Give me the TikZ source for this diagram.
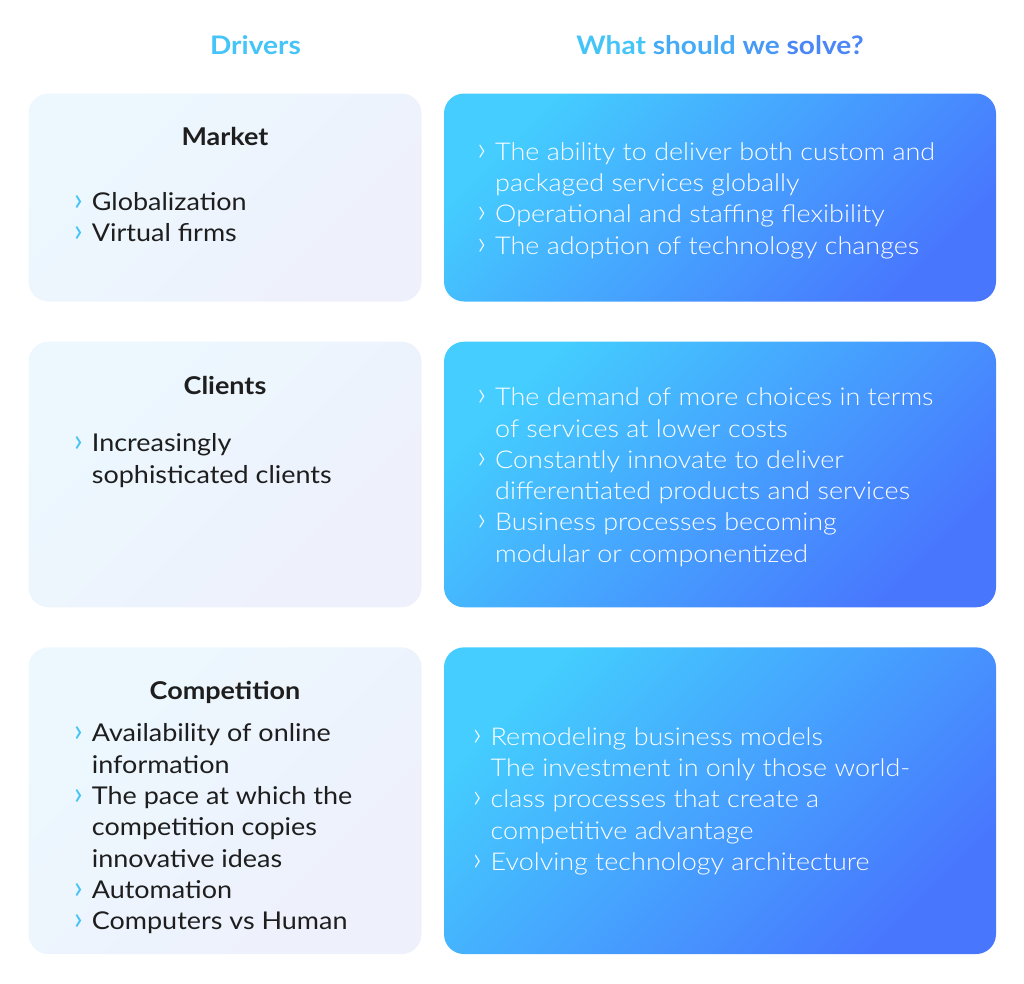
\documentclass[tikz,border=0pt]{standalone}
\usepackage{fontspec}
\setmainfont{Lato}[FakeStretch=1.1]
\newfontfamily\lightfont{Lato Light}[FakeStretch=1.1]
\newfontfamily\chevfont{Lato}
\newfontfamily\chevlightfont{Lato Light}
\usetikzlibrary{positioning}
\definecolor{headcyan}{HTML}{44C4F7}
\definecolor{headblue}{HTML}{4A86F6}
\definecolor{ink}{HTML}{1E1E1E}
\definecolor{chevron}{HTML}{45C3F5}
\definecolor{paleA}{HTML}{ECF8FE}
\definecolor{paleB}{HTML}{EEF0FC}
\definecolor{cyanA}{HTML}{44CDFE}
\definecolor{blueB}{HTML}{4877FE}
\newcommand\chevL{\llap{\textcolor{chevron}{\chevfont\fontsize{32}{32}\selectfont ›}\hspace{9pt}}}
\newcommand\chevR{\llap{{\chevlightfont\fontsize{34}{34}\selectfont ›}\hspace{9pt}}}
\newcommand\firstline{\rule{0pt}{24pt}}

\begin{document}
\begin{tikzpicture}[x=1pt, y=-1pt,
    driver/.style = {rounded corners=20pt, inner sep=0pt, minimum width=393pt,
        top color=paleA, bottom color=paleB, shading angle=45},
    solve/.style = {rounded corners=20pt, inner sep=0pt, minimum width=552pt,
        top color=cyanA, bottom color=blueB, shading angle=45},
    heading/.style = {font=\fontsize{25.5}{28}\selectfont\bfseries, anchor=base, inner sep=0pt},
    title/.style = {font=\fontsize{24.5}{28}\selectfont\bfseries, text=ink, anchor=base, inner sep=0pt},
    list/.style = {font=\fontsize{24.5}{31.3}\selectfont, text=ink, align=left,
        anchor=north west, inner sep=0pt},
    sollist/.style = {list, font=\lightfont\fontsize{24.5}{31.3}\selectfont, text=white}]
\useasboundingbox (0,0) rectangle (1024,983);

% column headings
\node[heading, text=headcyan] (drivers) at (255.5,54) {Drivers};
\node[heading] (question) at (720,54) {\textcolor{headcyan}{What}
    \textcolor{headcyan!60!headblue}{should} \textcolor{headcyan!30!headblue}{we}
    \textcolor{headblue}{solve?}};

% left column
\node[driver, minimum height=208pt] (market) at (225,197.5) {};
\node[driver, minimum height=265.6pt] (clients) at (225,474.5) {};
\node[driver, minimum height=306.7pt] (competition) at (225,800.7) {};

\node[title] (markettitle) at (225,145) {Market};
\node[title] (clientstitle) at (225,394) {Clients};
\node[title] (competitiontitle) at (225,699.3) {Competition};

% first baseline sits 24pt below each list's top
\node[list] (marketlist) at (91.7,186) {\firstline\chevL Globalization\\ \chevL Virtual firms};
\node[list] (clientslist) at (91.7,427.7) {\firstline\chevL Increasingly\\ sophisticated clients};
\node[list] (competitionlist) at (91.7,717.7) {\firstline\chevL Availability of online\\
    information\\ \chevL The pace at which the\\ competition copies\\
    innovative ideas\\ \chevL Automation\\ \chevL Computers vs Human};

% right column
\node[solve, minimum height=208pt] (marketsolve) at (720,197.5) {};
\node[solve, minimum height=265.6pt] (clientssolve) at (720,474.5) {};
\node[solve, minimum height=306.7pt] (competitionsolve) at (720,800.7) {};

\node[sollist] (marketanswer) at (495,136) {\firstline\chevR The ability to deliver both custom and\\
    packaged services globally\\ \chevR Operational and staffing flexibility\\
    \chevR The adoption of technology changes};
\node[sollist] (clientsanswer) at (495,381.5) {\firstline\chevR The demand of more choices in terms\\
    of services at lower costs\\ \chevR Constantly innovate to deliver\\
    differentiated products and services\\ \chevR Business processes becoming\\
    modular or componentized};
\node[sollist] (competitionanswer) at (490.5,721) {\firstline\chevR Remodeling business models\\
    The investment in only those world-\\ \chevR class processes that create a\\
    competitive advantage\\ \chevR Evolving technology architecture};
\end{tikzpicture}
\end{document}
